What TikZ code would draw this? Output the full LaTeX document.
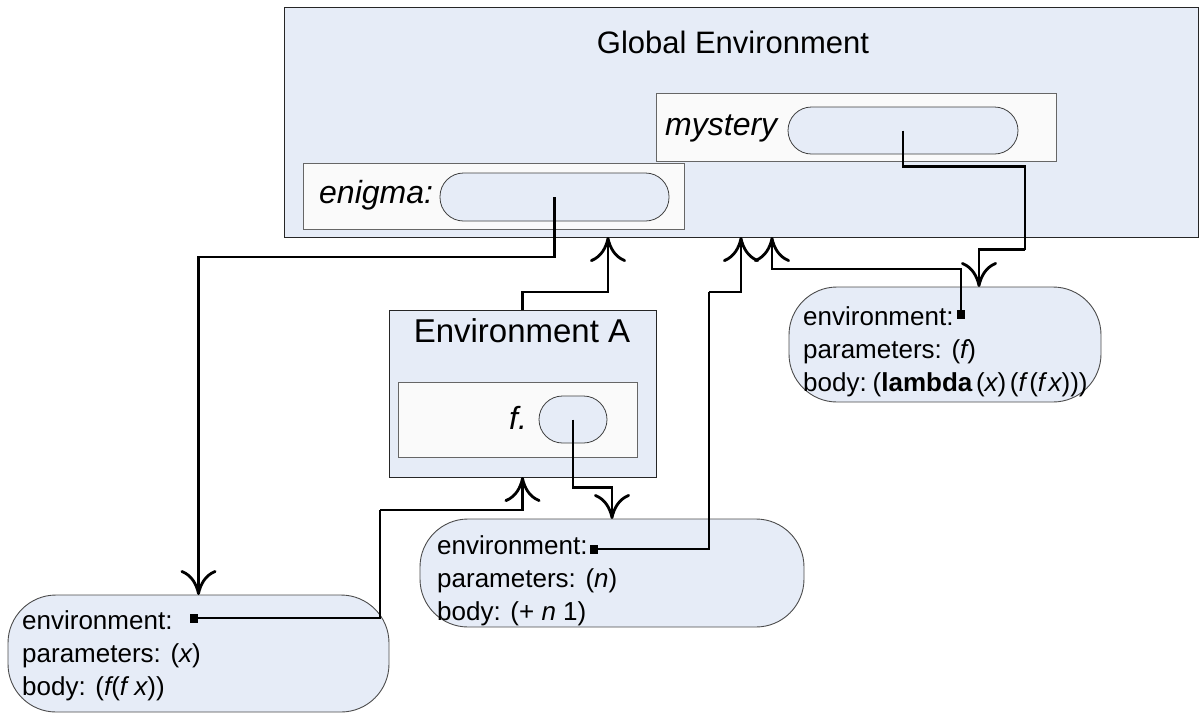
\documentclass[tikz,border=0pt]{standalone}
\usepackage{fontspec}
\setmainfont{Liberation Sans}
\usetikzlibrary{arrows.meta,calc}
\definecolor{envfill}{RGB}{230,236,247}
\definecolor{slotfill}{RGB}{250,250,250}
\newcommand{\iv}[1]{{\itshape #1}}
\begin{document}
\begin{tikzpicture}[x=1pt,y=-1pt,
  frame/.style={draw=black!85, line width=0.9pt, fill=envfill, inner sep=0pt, outer sep=0pt, anchor=north west},
  slot/.style={draw=black!60, line width=0.9pt, fill=slotfill, inner sep=0pt, outer sep=0pt, anchor=north west},
  pill/.style={draw=black!75, line width=0.8pt, fill=envfill, inner sep=0pt, outer sep=0pt, anchor=north west, rounded corners=23.5pt},
  blob/.style={draw=black!70, line width=0.9pt, fill=envfill, inner sep=0pt, outer sep=0pt, anchor=north west, rounded corners=48pt},
  conn/.style={line width=2.8pt, -{Computer Modern Rightarrow[length=25pt,width=36pt]}},
  wire/.style={line width=2.8pt},
  sq/.style={fill=black, minimum width=8pt, minimum height=9pt, inner sep=0pt, outer sep=0pt},
  lbl/.style={font=\fontsize{32}{38}\selectfont\itshape, anchor=base west, inner sep=0pt},
  ttl/.style={font=\fontsize{31}{38}\selectfont, anchor=base, inner sep=0pt},
  txt/.style={font=\fontsize{26}{33}\selectfont, anchor=base west, inner sep=0pt}]
\useasboundingbox (0,0) rectangle (1199,713);

% Global environment
\node[frame, minimum width=914pt, minimum height=230pt] (global) at (284,7) {};
\node[ttl] (gtitle) at (733,53) {Global Environment};
\node[slot, minimum width=400pt, minimum height=68pt] (mbox) at (656,93) {};
\node[lbl] (mlbl) at (665,135) {mystery};
\node[pill, minimum width=230pt, minimum height=47pt] (mp) at (788,107) {};
\node[slot, minimum width=381pt, minimum height=66pt] (ebox) at (303,163) {};
\node[lbl] (elbl) at (319,203) {enigma:};
\node[pill, minimum width=229pt, minimum height=48pt] (ep) at (440,173) {};

% Environment A
\node[frame, minimum width=267pt, minimum height=167pt] (envA) at (389,310) {};
\node[ttl, font=\fontsize{33}{38}\selectfont] (atitle) at (522,342) {Environment A};
\node[slot, minimum width=239pt, minimum height=75pt] (fbox) at (398,382) {};
\node[lbl] (flbl) at (509,429) {f.};
\node[pill, minimum width=68pt, minimum height=47pt] (fp) at (539,396) {};

% Procedure objects
\node[blob, minimum width=312pt, minimum height=115pt] (rb) at (789,287) {};
\node[txt] (r1) at (803,325) {environment:};
\node[txt] (r2) at (803,358) {parameters: (\iv{f})};
\node[txt] (r3) at (803,391) {\spaceskip=3.5pt body: (\textbf{lambda} (\iv{x}) (\iv{f} (\iv{f x})))};
\node[sq] (rsq) at (961,314) {};

\node[blob, minimum width=384pt, minimum height=108pt] (mid) at (420,519) {};
\node[txt] (m1) at (437,554) {environment:};
\node[txt] (m2) at (437,587) {parameters: (\iv{n})};
\node[txt] (m3) at (437,620) {body: (+ \iv{n} 1)};
\node[sq] (msq) at (594,549) {};

\node[blob, minimum width=381pt, minimum height=117pt] (blb) at (8,595) {};
\node[txt] (b1) at (22,629) {environment:};
\node[txt] (b2) at (22,662) {parameters: (\iv{x})};
\node[txt] (b3) at (22,695) {body: (\iv{f}(\iv{f x}))};
\node[sq] (bsq) at (194,618) {};

% Connectors
\draw[conn] (ep.center) -- ++(0,60) -| (blb.north);
\draw[wire] (bsq.center) -| ++(186,-108) coordinate (bturn);
\draw[conn] (bturn) -| (envA.south);
\draw[conn] (envA.north) -- ++(0,-18) -| ([xshift=-133pt]global.south);
\draw[conn] (fp.center) -- ++(0,68) -| (mid.north);
\draw[wire] (msq.center) -| ++(115,-257) coordinate (mturn);
\draw[conn] (mturn) -| (global.south);
\draw[conn] (rsq.center) -- ++(0,-45) -| ([xshift=31pt]global.south);
\draw[wire] (mp.center) -- ++(0,36) -- ++(122,0) -- ++(0,83) coordinate (pturn);
\draw[conn] (pturn) -| ([xshift=34pt]rb.north);
\end{tikzpicture}
\end{document}
